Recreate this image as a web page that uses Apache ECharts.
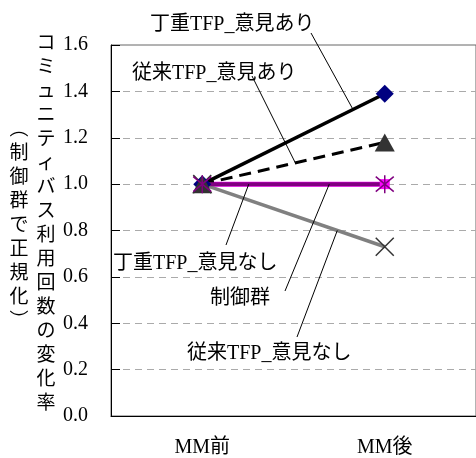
<!DOCTYPE html>
<html><head><meta charset="utf-8">
<script src="https://cdn.jsdelivr.net/npm/echarts@6/dist/echarts.min.js"></script>
<style>html,body{margin:0;padding:0;background:#fff}#c{width:476px;height:458px}</style>
</head><body><div id="c"></div>
<script>
// ---- data ----
const categories = ['MM前', 'MM後'];
const teichoAri = [1.0, 1.39];     // 丁重TFP_意見あり
const juraiAri = [1.0, 1.18];      // 従来TFP_意見あり
const teichoNashi = [1.0, 1.0];    // 丁重TFP_意見なし
const seigyo = [1.0, 1.0];         // 制御群
const juraiNashi = [1.0, 0.73];    // 従来TFP_意見なし
const yTitleMain = 'コミュニティバス利用回数の変化率';
const yTitleSub = '︵制御群で正規化︶';

const FONT = "'Liberation Serif','Noto Sans CJK JP',serif";
const chart = echarts.init(document.getElementById('c'), null, {renderer: 'canvas'});

const crossPath = 'path://M0,0L10,10M10,0L0,10';
const starPath = 'path://M0,0L10,10M10,0L0,10M5,-1L5,11';

const option = {
  animation: false,
  backgroundColor: '#fff',
  grid: {left: 111, top: 45, width: 370, height: 372, show: true, borderColor: '#666', borderWidth: 1, backgroundColor: 'transparent'},
  xAxis: {
    type: 'category', data: categories, boundaryGap: true,
    axisLine: {lineStyle: {color: '#000', width: 1}},
    axisTick: {inside: true, length: 6, lineStyle: {color: '#000'}},
    axisLabel: {margin: 22, fontSize: 20, color: '#000', fontFamily: FONT},
    splitLine: {show: false}
  },
  yAxis: {
    type: 'value', min: 0, max: 1.6, interval: 0.2,
    axisLine: {show: true, lineStyle: {color: '#000', width: 1}},
    axisTick: {show: true, inside: true, length: 9, lineStyle: {color: '#000'}},
    axisLabel: {margin: 23, fontSize: 20, color: '#000', fontFamily: FONT, formatter: v => v.toFixed(1)},
    splitLine: {show: true, showMinLine: false, showMaxLine: false, lineStyle: {color: '#aaa', width: 1, type: [7, 5]}}
  },
  series: [
    {name: '丁重TFP_意見なし', type: 'line', data: teichoNashi, symbol: 'rect', symbolSize: 10,
     lineStyle: {color: '#FF00FF', width: 5}, itemStyle: {color: '#FF00FF'}},
    {name: '従来TFP_意見なし', type: 'line', data: juraiNashi, symbol: crossPath, symbolSize: 18,
     lineStyle: {color: '#808080', width: 3.5}, itemStyle: {color: 'none', borderColor: '#333', borderWidth: 1.5}},
    {name: '丁重TFP_意見あり', type: 'line', data: teichoAri, symbol: 'diamond', symbolSize: 18,
     lineStyle: {color: '#000', width: 3.5}, itemStyle: {color: '#000080', borderWidth: 0}},
    {name: '従来TFP_意見あり', type: 'line', data: juraiAri, symbol: 'triangle', symbolSize: [20, 18],
     lineStyle: {color: '#000', width: 3, type: [12, 7]}, itemStyle: {color: '#333', borderWidth: 0}},
    {name: '制御群', type: 'line', data: seigyo, symbol: starPath, symbolSize: 18,
     lineStyle: {color: '#800080', width: 4}, itemStyle: {color: 'none', borderColor: '#800080', borderWidth: 1.5}}
  ]
};
chart.setOption(option);

// ---- annotations (labels with leader lines) ----
const annotations = [
  {text: '丁重TFP_意見あり', data: teichoAri, x: 150, y: 26, from: [311, 33], t: 0.826},
  {text: '従来TFP_意見あり', data: juraiAri, x: 132, y: 75, from: [252, 76], t: 0.51},
  {text: '丁重TFP_意見なし', data: teichoNashi, x: 113, y: 265, from: [226, 245], t: 0.255},
  {text: '制御群', data: seigyo, x: 210, y: 300, from: [285, 291], t: 0.696},
  {text: '従来TFP_意見なし', data: juraiNashi, x: 187, y: 355, from: [297, 337], t: 0.74}
];
const graphics = [];
annotations.forEach(a => {
  const p0 = chart.convertToPixel({gridIndex: 0}, [0, a.data[0]]);
  const p1 = chart.convertToPixel({gridIndex: 0}, [1, a.data[1]]);
  const px = p0[0] + (p1[0] - p0[0]) * a.t;
  const py = p0[1] + (p1[1] - p0[1]) * a.t;
  graphics.push({type: 'text', left: a.x, top: a.y - 11, z: 10,
    style: {text: a.text, fontSize: 20, fontFamily: FONT, fill: '#000'}});
  graphics.push({type: 'line', z: 11, shape: {x1: a.from[0], y1: a.from[1], x2: px, y2: py},
    style: {stroke: '#000', lineWidth: 1}});
});
graphics.push({type: 'text', x: 46, y: 32, z: 10,
  style: {text: yTitleMain.split('').join('\n'), fontSize: 19, lineHeight: 24, fontFamily: FONT, fill: '#000', align: 'center', verticalAlign: 'top'}});
graphics.push({type: 'text', x: 19, y: 118, z: 10,
  style: {text: yTitleSub.split('').join('\n'), fontSize: 19, lineHeight: 24, fontFamily: FONT, fill: '#000', align: 'center', verticalAlign: 'top'}});
chart.setOption({graphic: graphics});
</script>
</body></html>
